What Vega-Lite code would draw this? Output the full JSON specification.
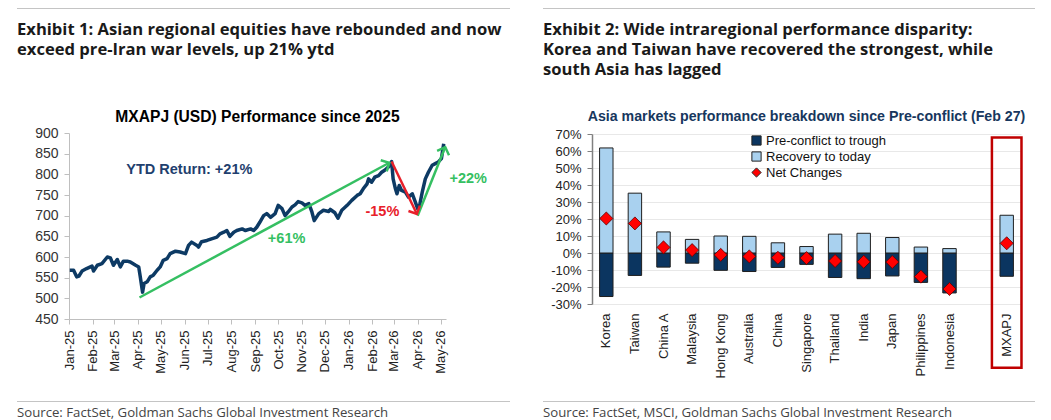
{
  "$schema": "https://vega.github.io/schema/vega-lite/v6.json",
  "background": "white",
  "padding": {"left": 17, "top": 8, "right": 5, "bottom": 0},
  "config": {
    "view": {"stroke": null},
    "font": "Liberation Sans",
    "title": {"font": "Liberation Sans"},
    "axis": {"labelFont": "Liberation Sans", "titleFont": "Liberation Sans"}
  },
  "datasets": {
    "mxapj": [
      {"date":"2025-01-02","value":568},{"date":"2025-01-07","value":568},{"date":"2025-01-11","value":552},{"date":"2025-01-14","value":554},
      {"date":"2025-01-18","value":566},{"date":"2025-01-24","value":572},{"date":"2025-01-31","value":578},{"date":"2025-02-02","value":566},
      {"date":"2025-02-07","value":580},{"date":"2025-02-13","value":584},{"date":"2025-02-20","value":600},{"date":"2025-02-24","value":598},
      {"date":"2025-02-28","value":580},{"date":"2025-03-05","value":594},{"date":"2025-03-09","value":576},{"date":"2025-03-13","value":590},
      {"date":"2025-03-18","value":590},{"date":"2025-03-22","value":588},{"date":"2025-03-29","value":580},{"date":"2025-04-02","value":576},
      {"date":"2025-04-04","value":552},{"date":"2025-04-07","value":515},{"date":"2025-04-09","value":536},{"date":"2025-04-13","value":540},
      {"date":"2025-04-17","value":552},{"date":"2025-04-21","value":556},{"date":"2025-04-26","value":568},{"date":"2025-04-30","value":576},
      {"date":"2025-05-04","value":592},{"date":"2025-05-09","value":596},{"date":"2025-05-13","value":608},{"date":"2025-05-20","value":614},
      {"date":"2025-05-26","value":612},{"date":"2025-06-02","value":608},{"date":"2025-06-06","value":628},{"date":"2025-06-10","value":636},
      {"date":"2025-06-17","value":628},{"date":"2025-06-19","value":624},{"date":"2025-06-23","value":637},{"date":"2025-06-30","value":640},
      {"date":"2025-07-06","value":644},{"date":"2025-07-13","value":648},{"date":"2025-07-17","value":656},{"date":"2025-07-22","value":660},
      {"date":"2025-07-26","value":664},{"date":"2025-07-30","value":650},{"date":"2025-08-04","value":660},{"date":"2025-08-08","value":664},
      {"date":"2025-08-15","value":668},{"date":"2025-08-19","value":664},{"date":"2025-08-26","value":668},{"date":"2025-08-30","value":664},
      {"date":"2025-09-03","value":672},{"date":"2025-09-07","value":684},{"date":"2025-09-12","value":700},{"date":"2025-09-16","value":705},
      {"date":"2025-09-21","value":696},{"date":"2025-09-27","value":705},{"date":"2025-10-01","value":725},{"date":"2025-10-06","value":717},
      {"date":"2025-10-10","value":700},{"date":"2025-10-14","value":709},{"date":"2025-10-19","value":721},{"date":"2025-10-23","value":726},
      {"date":"2025-10-27","value":734},{"date":"2025-11-01","value":731},{"date":"2025-11-05","value":725},{"date":"2025-11-10","value":729},
      {"date":"2025-11-14","value":709},{"date":"2025-11-17","value":688},{"date":"2025-11-23","value":705},{"date":"2025-11-29","value":713},
      {"date":"2025-12-06","value":710},{"date":"2025-12-08","value":715},{"date":"2025-12-14","value":707},{"date":"2025-12-18","value":694},
      {"date":"2025-12-23","value":713},{"date":"2025-12-30","value":725},{"date":"2026-01-05","value":737},{"date":"2026-01-12","value":749},
      {"date":"2026-01-16","value":753},{"date":"2026-01-20","value":765},{"date":"2026-01-25","value":777},{"date":"2026-01-27","value":789},
      {"date":"2026-01-31","value":781},{"date":"2026-02-04","value":793},{"date":"2026-02-09","value":797},{"date":"2026-02-13","value":805},
      {"date":"2026-02-17","value":810},{"date":"2026-02-22","value":818},{"date":"2026-02-26","value":831},{"date":"2026-02-28","value":789},
      {"date":"2026-03-03","value":765},{"date":"2026-03-05","value":753},{"date":"2026-03-08","value":773},{"date":"2026-03-11","value":761},
      {"date":"2026-03-16","value":757},{"date":"2026-03-20","value":745},{"date":"2026-03-25","value":753},{"date":"2026-03-29","value":733},
      {"date":"2026-04-01","value":717},{"date":"2026-04-04","value":729},{"date":"2026-04-07","value":757},{"date":"2026-04-11","value":789},
      {"date":"2026-04-15","value":805},{"date":"2026-04-20","value":822},{"date":"2026-04-24","value":826},{"date":"2026-04-28","value":830},
      {"date":"2026-05-02","value":838},{"date":"2026-05-03","value":850},{"date":"2026-05-05","value":874}
    ],
    "arrows": [
      {"arrow":"rally","kind":"up","pos":"start","date":"2025-04-03","value":502},
      {"arrow":"rally","kind":"up","pos":"end","date":"2026-02-23","value":828},
      {"arrow":"selloff","kind":"down","pos":"start","date":"2026-02-26","value":831},
      {"arrow":"selloff","kind":"down","pos":"end","date":"2026-03-31","value":704},
      {"arrow":"rebound","kind":"up","pos":"start","date":"2026-04-01","value":700},
      {"arrow":"rebound","kind":"up","pos":"end","date":"2026-05-07","value":866}
    ],
    "notes": [
      {"note":"YTD Return: +21%","kind":"ytd","date":"2025-06-07","value":810},
      {"note":"+61%","kind":"up","date":"2025-10-12","value":644},
      {"note":"-15%","kind":"down","date":"2026-02-14","value":710},
      {"note":"+22%","kind":"up","date":"2026-06-06","value":788}
    ],
    "perf": [
      {"market":"Korea","series":"Pre-conflict to trough","value":-0.256},{"market":"Korea","series":"Recovery to today","value":0.618},{"market":"Korea","series":"Net Changes","value":0.203},
      {"market":"Taiwan","series":"Pre-conflict to trough","value":-0.132},{"market":"Taiwan","series":"Recovery to today","value":0.352},{"market":"Taiwan","series":"Net Changes","value":0.174},
      {"market":"China A","series":"Pre-conflict to trough","value":-0.083},{"market":"China A","series":"Recovery to today","value":0.124},{"market":"China A","series":"Net Changes","value":0.033},
      {"market":"Malaysia","series":"Pre-conflict to trough","value":-0.06},{"market":"Malaysia","series":"Recovery to today","value":0.08},{"market":"Malaysia","series":"Net Changes","value":0.017},
      {"market":"Hong Kong","series":"Pre-conflict to trough","value":-0.102},{"market":"Hong Kong","series":"Recovery to today","value":0.1},{"market":"Hong Kong","series":"Net Changes","value":-0.011},
      {"market":"Australia","series":"Pre-conflict to trough","value":-0.109},{"market":"Australia","series":"Recovery to today","value":0.098},{"market":"Australia","series":"Net Changes","value":-0.02},
      {"market":"China","series":"Pre-conflict to trough","value":-0.085},{"market":"China","series":"Recovery to today","value":0.06},{"market":"China","series":"Net Changes","value":-0.028},
      {"market":"Singapore","series":"Pre-conflict to trough","value":-0.067},{"market":"Singapore","series":"Recovery to today","value":0.038},{"market":"Singapore","series":"Net Changes","value":-0.03},
      {"market":"Thailand","series":"Pre-conflict to trough","value":-0.144},{"market":"Thailand","series":"Recovery to today","value":0.111},{"market":"Thailand","series":"Net Changes","value":-0.047},
      {"market":"India","series":"Pre-conflict to trough","value":-0.151},{"market":"India","series":"Recovery to today","value":0.116},{"market":"India","series":"Net Changes","value":-0.052},
      {"market":"Japan","series":"Pre-conflict to trough","value":-0.135},{"market":"Japan","series":"Recovery to today","value":0.091},{"market":"Japan","series":"Net Changes","value":-0.053},
      {"market":"Philippines","series":"Pre-conflict to trough","value":-0.173},{"market":"Philippines","series":"Recovery to today","value":0.035},{"market":"Philippines","series":"Net Changes","value":-0.139},
      {"market":"Indonesia","series":"Pre-conflict to trough","value":-0.235},{"market":"Indonesia","series":"Recovery to today","value":0.026},{"market":"Indonesia","series":"Net Changes","value":-0.212},
      {"market":"MXAPJ","series":"Pre-conflict to trough","value":-0.137},{"market":"MXAPJ","series":"Recovery to today","value":0.222},{"market":"MXAPJ","series":"Net Changes","value":0.057}
    ]
  },
  "resolve": {"scale": {"color": "independent", "shape": "independent"}, "legend": {"color": "independent", "shape": "independent"}},
  "hconcat": [
    {
      "spacing": 50,
      "resolve": {"scale": {"color": "independent", "shape": "independent"}, "legend": {"color": "independent", "shape": "independent"}},
      "vconcat": [
        {
          "width": 493, "height": 1,
          "view": {"fill": "#c4c4c4", "stroke": null},
          "data": {"values": [{}]},
          "mark": {"type": "point", "size": 0, "opacity": 0},
          "encoding": {},
          "title": {"text": ["Exhibit 1: Asian regional equities have rebounded and now", "exceed pre-Iran war levels, up 21% ytd"], "orient": "bottom", "anchor": "start", "frame": "group", "font": "Open Sans", "fontSize": 16.6, "fontWeight": "bold", "color": "#1a1a1a", "lineHeight": 20, "baseline": "top", "offset": 13}
        },
        {
          "spacing": 27,
          "resolve": {"scale": {"color": "independent", "shape": "independent"}, "legend": {"color": "independent", "shape": "independent"}},
          "vconcat": [
            {
              "spacing": 0,
              "resolve": {"scale": {"color": "independent", "shape": "independent"}, "legend": {"color": "independent", "shape": "independent"}},
              "hconcat": [
                {"width": 17, "height": 1, "data": {"values": [{}]}, "mark": {"type": "point", "size": 0, "opacity": 0}, "encoding": {}},
                {
                  "width": 377, "height": 186,
                  "title": {"text": "MXAPJ (USD) Performance since 2025", "fontSize": 15.6, "fontWeight": "bold", "color": "#000000", "anchor": "middle", "baseline": "alphabetic", "offset": -7.5, "dy": 4},
                  "encoding": {
                    "x": {"field": "date", "type": "temporal",
                      "scale": {"type": "utc", "domain": [{"year": 2025, "month": 1, "date": 1, "utc": true}, {"year": 2026, "month": 5, "date": 8, "utc": true}]},
                      "axis": {"title": null, "tickCount": {"interval": "month", "step": 1}, "labelExpr": "utcFormat(datum.value, '%b-%y')", "labelAngle": -90, "labelFontSize": 13, "labelColor": "#222222", "labelPadding": 6, "tickSize": 5, "tickColor": "#bfbfbf", "domainColor": "#bfbfbf", "grid": false, "labelOverlap": false, "labelFlush": false}},
                    "y": {"field": "value", "type": "quantitative",
                      "scale": {"domain": [450, 900], "zero": false, "nice": false},
                      "axis": {"title": null, "values": [450, 500, 550, 600, 650, 700, 750, 800, 850, 900], "labelOverlap": false, "labelFontSize": 14, "labelColor": "#333333", "labelPadding": 6, "tickSize": 5, "tickColor": "#bfbfbf", "domainColor": "#bfbfbf", "grid": false}}
                  },
                  "layer": [
                    {
                      "data": {"name": "mxapj"},
                      "mark": {"type": "line", "color": "#0d3a64", "strokeWidth": 3.5, "strokeJoin": "round"}
                    },
                    {
                      "data": {"name": "arrows"},
                      "mark": {"type": "line", "strokeWidth": 2.5},
                      "encoding": {
                        "detail": {"field": "arrow"},
                        "color": {"field": "kind", "type": "nominal", "scale": {"domain": ["ytd", "up", "down"], "range": ["#1f3f6e", "#35bf62", "#e8202a"]}, "legend": null}
                      }
                    },
                    {
                      "data": {"name": "arrows"},
                      "transform": [{"filter": "datum.arrow === 'rally' && datum.pos === 'end'"}],
                      "mark": {"type": "point", "shape": "M-1,-1L0,0L-1,1", "filled": false, "size": 160, "strokeWidth": 2.5, "opacity": 1, "angle": -28.4},
                      "encoding": {"color": {"field": "kind", "type": "nominal", "legend": null}}
                    },
                    {
                      "data": {"name": "arrows"},
                      "transform": [{"filter": "datum.arrow === 'selloff' && datum.pos === 'end'"}],
                      "mark": {"type": "point", "shape": "M-1,-1L0,0L-1,1", "filled": false, "size": 160, "strokeWidth": 2.5, "opacity": 1, "angle": 64.5},
                      "encoding": {"color": {"field": "kind", "type": "nominal", "legend": null}}
                    },
                    {
                      "data": {"name": "arrows"},
                      "transform": [{"filter": "datum.arrow === 'rebound' && datum.pos === 'end'"}],
                      "mark": {"type": "point", "shape": "M-1,-1L0,0L-1,1", "filled": false, "size": 160, "strokeWidth": 2.5, "opacity": 1, "angle": -69.9},
                      "encoding": {"color": {"field": "kind", "type": "nominal", "legend": null}}
                    },
                    {
                      "data": {"name": "notes"},
                      "mark": {"type": "text", "fontSize": 14.5, "fontWeight": "bold", "align": "center", "baseline": "middle"},
                      "encoding": {"text": {"field": "note"}, "color": {"field": "kind", "type": "nominal", "legend": null}}
                    }
                  ]
                }
              ]
            },
            {
              "width": 493, "height": 1,
              "view": {"fill": "#c4c4c4", "stroke": null},
              "data": {"values": [{}]},
              "mark": {"type": "point", "size": 0, "opacity": 0},
              "encoding": {},
              "title": {"text": "Source: FactSet, Goldman Sachs Global Investment Research", "orient": "bottom", "anchor": "start", "frame": "group", "font": "Open Sans", "fontSize": 13.2, "fontWeight": "normal", "color": "#444444", "baseline": "top", "offset": 5}
            }
          ]
        }
      ]
    },
    {
      "spacing": 31,
      "resolve": {"scale": {"color": "independent", "shape": "independent"}, "legend": {"color": "independent", "shape": "independent"}},
      "vconcat": [
        {
          "width": 492, "height": 1,
          "view": {"fill": "#c4c4c4", "stroke": null},
          "data": {"values": [{}]},
          "mark": {"type": "point", "size": 0, "opacity": 0},
          "encoding": {},
          "title": {"text": ["Exhibit 2: Wide intraregional performance disparity:", "Korea and Taiwan have recovered the strongest, while", "south Asia has lagged"], "orient": "bottom", "anchor": "start", "frame": "group", "font": "Open Sans", "fontSize": 16.6, "fontWeight": "bold", "color": "#1a1a1a", "lineHeight": 20, "baseline": "top", "offset": 13}
        },
        {
          "spacing": 22,
          "resolve": {"scale": {"color": "independent", "shape": "independent"}, "legend": {"color": "independent", "shape": "independent"}},
          "vconcat": [
            {
              "spacing": 0,
              "resolve": {"scale": {"color": "independent", "shape": "independent"}, "legend": {"color": "independent", "shape": "independent"}},
              "hconcat": [
                {"width": 7, "height": 1, "data": {"values": [{}]}, "mark": {"type": "point", "size": 0, "opacity": 0}, "encoding": {}},
                {
                  "width": 429, "height": 170,
                  "title": {"text": "Asia markets performance breakdown since Pre-conflict (Feb 27)", "fontSize": 14.2, "fontWeight": "bold", "color": "#17375e", "anchor": "middle", "baseline": "alphabetic", "offset": -3, "dy": 4.5},
                  "encoding": {
                    "x": {"field": "market", "type": "nominal",
                      "scale": {"domain": ["Korea", "Taiwan", "China A", "Malaysia", "Hong Kong", "Australia", "China", "Singapore", "Thailand", "India", "Japan", "Philippines", "Indonesia", " ", "MXAPJ"], "paddingInner": 0.53, "paddingOuter": 0.265},
                      "axis": {"title": null, "labelAngle": -90, "labelFontSize": 13, "labelColor": "#222222", "ticks": false, "domain": false, "labelPadding": 9, "grid": false}}
                  },
                  "layer": [
                    {
                      "data": {"name": "perf"},
                      "transform": [{"filter": "datum.series !== 'Net Changes'"}],
                      "mark": {"type": "bar", "stroke": "#1f1f1f", "strokeWidth": 1},
                      "encoding": {
                        "y": {"field": "value", "type": "quantitative", "stack": null,
                          "scale": {"domain": [-0.3, 0.7], "nice": false},
                          "axis": {"title": null, "values": [-0.3, -0.2, -0.1, 0, 0.1, 0.2, 0.3, 0.4, 0.5, 0.6, 0.7], "labelOverlap": false, "labelExpr": "round(datum.value * 100) + '%'", "labelFontSize": 13, "labelColor": "#222222", "labelPadding": 6, "tickSize": 5, "tickColor": "#808080", "domainColor": "#808080", "domainWidth": 1.5, "grid": true, "gridColor": "#e8e8e8"}},
                        "color": {"field": "series", "type": "nominal",
                          "scale": {"domain": ["Pre-conflict to trough", "Recovery to today", "Net Changes"], "range": ["#0b3560", "#a9d1ef", "#ff0000"]},
                          "legend": {"title": null, "orient": "none", "legendX": 158, "legendY": 0, "labelFontSize": 13, "labelFont": "Liberation Sans", "labelColor": "#111111", "symbolSize": 85, "symbolStrokeColor": "#222222", "symbolStrokeWidth": 1, "rowPadding": 1, "labelOffset": 3, "padding": 0}}
                      }
                    },
                    {
                      "data": {"name": "perf"},
                      "transform": [{"filter": "datum.series === 'Net Changes'"}],
                      "mark": {"type": "point", "filled": true, "size": 170, "stroke": "#5a0000", "strokeWidth": 0.8, "opacity": 1},
                      "encoding": {
                        "y": {"field": "value", "type": "quantitative",
                          "scale": {"domain": [-0.3, 0.7], "nice": false},
                          "axis": {"title": null, "values": [-0.3, -0.2, -0.1, 0, 0.1, 0.2, 0.3, 0.4, 0.5, 0.6, 0.7], "labelOverlap": false, "labelExpr": "round(datum.value * 100) + '%'", "labelFontSize": 13, "labelColor": "#222222", "labelPadding": 6, "tickSize": 5, "tickColor": "#808080", "domainColor": "#808080", "domainWidth": 1.5, "grid": true, "gridColor": "#e8e8e8"}},
                        "color": {"field": "series", "type": "nominal",
                          "scale": {"domain": ["Pre-conflict to trough", "Recovery to today", "Net Changes"], "range": ["#0b3560", "#a9d1ef", "#ff0000"]},
                          "legend": {"title": null, "orient": "none", "legendX": 158, "legendY": 0, "labelFontSize": 13, "labelFont": "Liberation Sans", "labelColor": "#111111", "symbolSize": 85, "symbolStrokeColor": "#222222", "symbolStrokeWidth": 1, "rowPadding": 1, "labelOffset": 3, "padding": 0}},
                        "shape": {"field": "series", "type": "nominal",
                          "scale": {"domain": ["Pre-conflict to trough", "Recovery to today", "Net Changes"], "range": ["square", "square", "diamond"]},
                          "legend": {"title": null, "orient": "none", "legendX": 158, "legendY": 0, "labelFontSize": 13, "labelFont": "Liberation Sans", "labelColor": "#111111", "symbolSize": 85, "symbolStrokeColor": "#222222", "symbolStrokeWidth": 1, "rowPadding": 1, "labelOffset": 3, "padding": 0}}
                      }
                    },
                    {
                      "data": {"values": [{"market": "MXAPJ"}]},
                      "mark": {"type": "bar", "filled": false, "stroke": "#c00000", "strokeWidth": 2.5, "width": {"band": 2.2}, "clip": false},
                      "encoding": {
                        "y": {"datum": 0.68, "type": "quantitative",
                          "axis": {"title": null, "values": [-0.3, -0.2, -0.1, 0, 0.1, 0.2, 0.3, 0.4, 0.5, 0.6, 0.7], "labelOverlap": false, "labelExpr": "round(datum.value * 100) + '%'", "labelFontSize": 13, "labelColor": "#222222", "labelPadding": 6, "tickSize": 5, "tickColor": "#808080", "domainColor": "#808080", "domainWidth": 1.5, "grid": true, "gridColor": "#e8e8e8"}},
                        "y2": {"datum": -0.675}
                      }
                    }
                  ]
                }
              ]
            },
            {
              "width": 492, "height": 1,
              "view": {"fill": "#c4c4c4", "stroke": null},
              "data": {"values": [{}]},
              "mark": {"type": "point", "size": 0, "opacity": 0},
              "encoding": {},
              "title": {"text": "Source: FactSet, MSCI, Goldman Sachs Global Investment Research", "orient": "bottom", "anchor": "start", "frame": "group", "font": "Open Sans", "fontSize": 13.2, "fontWeight": "normal", "color": "#444444", "baseline": "top", "offset": 5}
            }
          ]
        }
      ]
    }
  ],
  "spacing": 33
}
